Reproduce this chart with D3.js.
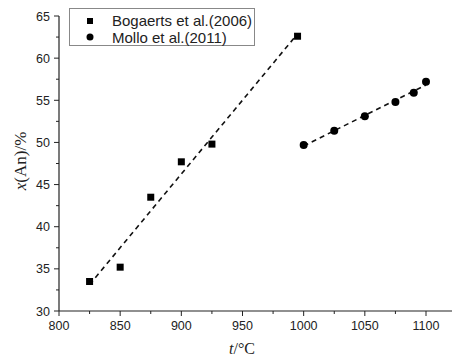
<!DOCTYPE html>
<html>
<head>
<meta charset="utf-8">
<script src="https://cdn.jsdelivr.net/npm/d3@7"></script>
<style>
  body { margin: 0; background: #fff; }
  svg { display: block; }
</style>
</head>
<body>
<svg id="chart"></svg>
<script>
const bogaertsT = [825, 850, 875, 900, 925, 995]
const bogaertsX = [33.5, 35.2, 43.5, 47.7, 49.8, 62.6]
const molloT = [1000, 1025, 1050, 1075, 1090, 1100]
const molloX = [49.7, 51.4, 53.1, 54.8, 55.9, 57.2]
const seriesNames = ['Bogaerts et al.(2006)', 'Mollo et al.(2011)']
const xTicks = [800, 850, 900, 950, 1000, 1050, 1100]
const yTicks = [30, 35, 40, 45, 50, 55, 60, 65]

const width = 452, height = 358
const margin = { top: 16, right: 0, bottom: 47, left: 59 }

const svg = d3.select('#chart')
  .attr('width', width)
  .attr('height', height)

const x = d3.scaleLinear().domain([800, 1100]).range([margin.left, 426])
const y = d3.scaleLinear().domain([30, 65]).range([height - margin.bottom, margin.top])

const font = '"Liberation Sans", Arial, sans-serif'

// linear fit for the dashed trend lines
function fit(xs, ys) {
  const mx = d3.mean(xs), my = d3.mean(ys)
  const slope = d3.sum(xs, (v, i) => (v - mx) * (ys[i] - my)) / d3.sum(xs, (v) => (v - mx) ** 2)
  const lo = d3.min(xs), hi = d3.max(xs)
  return [[lo, my + slope * (lo - mx)], [hi, my + slope * (hi - mx)]]
}

const line = d3.line().x((d) => x(d[0])).y((d) => y(d[1]))

// axes
const xAxisG = svg.append('g')
  .attr('transform', `translate(0,${y(30)})`)
xAxisG.append('line')
  .attr('x1', x(800)).attr('x2', width)
  .attr('stroke', '#222').attr('stroke-width', 1.2)
const xMinor = d3.range(825, 1125, 50)
xAxisG.selectAll('.minor').data(xMinor).enter().append('line')
  .attr('x1', (d) => x(d)).attr('x2', (d) => x(d))
  .attr('y1', 0).attr('y2', 3)
  .attr('stroke', '#222')
xAxisG.selectAll('.major').data(xTicks).enter().append('line')
  .attr('x1', (d) => x(d)).attr('x2', (d) => x(d))
  .attr('y1', 0).attr('y2', 5)
  .attr('stroke', '#222')
xAxisG.selectAll('text').data(xTicks).enter().append('text')
  .attr('x', (d) => x(d))
  .attr('y', 19)
  .attr('text-anchor', 'middle')
  .attr('font-family', font)
  .attr('font-size', 12.5)
  .attr('fill', '#222')
  .text((d) => d)

const yAxisG = svg.append('g')
  .attr('transform', `translate(${x(800)},0)`)
yAxisG.append('line')
  .attr('y1', y(30)).attr('y2', y(65))
  .attr('stroke', '#222').attr('stroke-width', 1.2)
const yMinor = d3.range(32.5, 65, 5)
yAxisG.selectAll('.minor').data(yMinor).enter().append('line')
  .attr('y1', (d) => y(d)).attr('y2', (d) => y(d))
  .attr('x1', 0).attr('x2', -3)
  .attr('stroke', '#222')
yAxisG.selectAll('.major').data(yTicks).enter().append('line')
  .attr('y1', (d) => y(d)).attr('y2', (d) => y(d))
  .attr('x1', 0).attr('x2', -5)
  .attr('stroke', '#222')
yAxisG.selectAll('text').data(yTicks).enter().append('text')
  .attr('x', -9)
  .attr('y', (d) => y(d) + 4.5)
  .attr('text-anchor', 'end')
  .attr('font-family', font)
  .attr('font-size', 12.5)
  .attr('fill', '#222')
  .text((d) => d)

// axis titles
const serif = '"Liberation Serif", "Times New Roman", serif'
const yTitle = svg.append('text')
  .attr('transform', `translate(26,${y(47.8)}) rotate(-90)`)
  .attr('text-anchor', 'middle')
  .attr('font-family', serif)
  .attr('font-size', 17)
  .attr('fill', '#222')
yTitle.append('tspan').attr('font-style', 'italic').text('x')
yTitle.append('tspan').text('(An)/%')

const xTitle = svg.append('text')
  .attr('x', 242)
  .attr('y', 354)
  .attr('text-anchor', 'middle')
  .attr('font-family', serif)
  .attr('font-size', 16)
  .attr('fill', '#222')
xTitle.append('tspan').attr('font-style', 'italic').text('t')
xTitle.append('tspan').text('/°C')

// trend lines
const bData = bogaertsT.map((t, i) => [t, bogaertsX[i]])
const mData = molloT.map((t, i) => [t, molloX[i]])

svg.append('path')
  .attr('d', line(fit(bogaertsT, bogaertsX)))
  .attr('fill', 'none').attr('stroke', '#111')
  .attr('stroke-width', 1.6).attr('stroke-dasharray', '5,4')
svg.append('path')
  .attr('d', line(fit(molloT, molloX)))
  .attr('fill', 'none').attr('stroke', '#111')
  .attr('stroke-width', 1.6).attr('stroke-dasharray', '5,4')

// points
svg.selectAll('.sq').data(bData).enter().append('rect')
  .attr('x', (d) => x(d[0]) - 3.5)
  .attr('y', (d) => y(d[1]) - 3.5)
  .attr('width', 7).attr('height', 7)
  .attr('fill', '#000')
svg.selectAll('.dot').data(mData).enter().append('circle')
  .attr('cx', (d) => x(d[0]))
  .attr('cy', (d) => y(d[1]))
  .attr('r', 4)
  .attr('fill', '#000')

// legend
const legend = svg.append('g')
legend.append('rect')
  .attr('x', 69.5).attr('y', 8.5)
  .attr('width', 185).attr('height', 37)
  .attr('fill', '#fff').attr('stroke', '#888')
legend.append('rect')
  .attr('x', 87).attr('y', 18)
  .attr('width', 6).attr('height', 6)
  .attr('fill', '#000')
legend.append('circle')
  .attr('cx', 90).attr('cy', 37)
  .attr('r', 3.5)
  .attr('fill', '#000')
legend.selectAll('text').data(seriesNames).enter().append('text')
  .attr('x', 112)
  .attr('y', (d, i) => 26 + i * 16.5)
  .attr('font-family', font)
  .attr('font-size', 15)
  .attr('fill', '#222')
  .text((d) => d)
</script>
</body>
</html>
